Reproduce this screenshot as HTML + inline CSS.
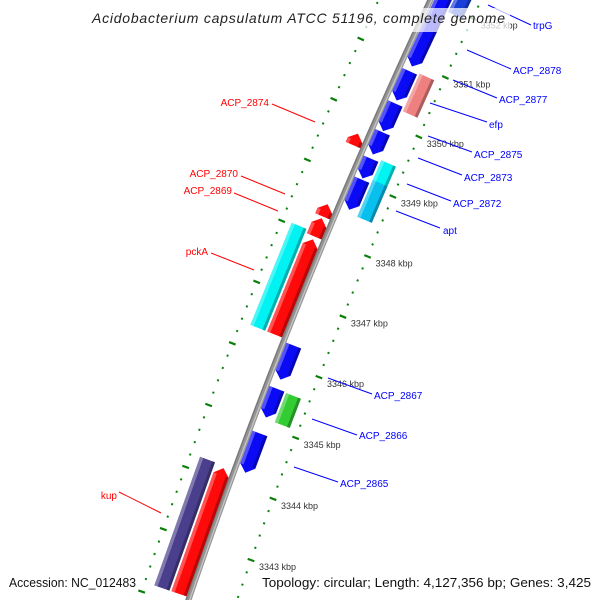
<!DOCTYPE html>
<html><head><meta charset="utf-8"><style>
html,body{margin:0;padding:0;background:#fff;width:600px;height:600px;overflow:hidden;}
svg{display:block;overflow:hidden;}
text{font-family:"Liberation Sans",sans-serif;}
</style></head><body>
<svg id="map" width="600" height="600" viewBox="0 0 600 600" xmlns="http://www.w3.org/2000/svg">
<rect x="0" y="0" width="600" height="600" fill="#fff"/>
<g id="rulers"></g>
<g id="backbone"></g>
<g id="genes"></g>
<g id="rulerLabels"></g>
<g font-size="10">
  <line x1="488" y1="5" x2="531" y2="25" stroke="#00f"/>
  <text x="533" y="29" fill="#00f">trpG</text>
  <line x1="467" y1="50" x2="511" y2="69" stroke="#00f"/>
  <text x="513" y="74" fill="#00f">ACP_2878</text>
  <line x1="453" y1="80" x2="497" y2="98" stroke="#00f"/>
  <text x="499" y="103" fill="#00f">ACP_2877</text>
  <line x1="430" y1="103" x2="487" y2="122" stroke="#00f"/>
  <text x="489" y="128" fill="#00f">efp</text>
  <line x1="428" y1="136" x2="472" y2="152" stroke="#00f"/>
  <text x="474" y="158" fill="#00f">ACP_2875</text>
  <line x1="418" y1="158" x2="462" y2="175" stroke="#00f"/>
  <text x="464" y="181" fill="#00f">ACP_2873</text>
  <line x1="407" y1="184" x2="451" y2="201" stroke="#00f"/>
  <text x="453" y="207" fill="#00f">ACP_2872</text>
  <line x1="396" y1="211" x2="440" y2="228" stroke="#00f"/>
  <text x="443" y="234" fill="#00f">apt</text>
  <line x1="328" y1="378" x2="372" y2="394" stroke="#00f"/>
  <text x="374" y="399" fill="#00f">ACP_2867</text>
  <line x1="312" y1="419" x2="357" y2="435" stroke="#00f"/>
  <text x="359" y="439" fill="#00f">ACP_2866</text>
  <line x1="294" y1="467" x2="338" y2="482" stroke="#00f"/>
  <text x="340" y="487" fill="#00f">ACP_2865</text>

  <line x1="272" y1="104" x2="315" y2="122" stroke="#f00"/>
  <text x="269" y="106" text-anchor="end" fill="#f00">ACP_2874</text>
  <line x1="241" y1="176" x2="285" y2="194" stroke="#f00"/>
  <text x="238" y="177" text-anchor="end" fill="#f00">ACP_2870</text>
  <line x1="234" y1="193" x2="278" y2="211" stroke="#f00"/>
  <text x="232" y="194" text-anchor="end" fill="#f00">ACP_2869</text>
  <line x1="211" y1="253" x2="254" y2="270" stroke="#f00"/>
  <text x="208" y="255" text-anchor="end" fill="#f00">pckA</text>
  <line x1="119" y1="492" x2="161" y2="513" stroke="#f00"/>
  <text x="117" y="499" text-anchor="end" fill="#f00">kup</text>
</g>
<rect x="88" y="8" width="422" height="24" fill="#fff" fill-opacity="0.72"/>
<text x="92" y="23" font-size="14" font-style="italic" fill="#222" textLength="413" lengthAdjust="spacing">Acidobacterium capsulatum ATCC 51196, complete genome</text>
<text x="9" y="587" font-size="13" fill="#111" textLength="127" lengthAdjust="spacingAndGlyphs">Accession: NC_012483</text>
<text x="262" y="587" font-size="13" fill="#111" textLength="329" lengthAdjust="spacingAndGlyphs">Topology: circular; Length: 4,127,356 bp; Genes: 3,425</text>
</svg>
<script>
// ---- data ----
const geneNames  = ['ACP_2879','ACP_2878','ACP_2877b','ACP_2875','ACP_2874b','ACP_2873','ACP_2867','ACP_2866b','ACP_2865',
                    'trpG','efp','ACP_2873c','apt','ACP_2866',
                    'ACP_2874','ACP_2870','ACP_2869','pckA','kup','ACP_2864',
                    'pckA-outer','kup-outer'];
const geneStart  = [3350.94,3350.37,3349.86,3349.47,3349.07,3348.55,3345.75,3345.13,3344.23,
                    3351.93,3350.26,3349.04,3348.50,3345.11,
                    3349.48,3348.30,3347.97,3346.36,3342.15,3341.00,
                    3346.36,3342.15];
const geneEnd    = [3353.20,3350.86,3350.32,3349.84,3349.40,3349.05,3346.31,3345.60,3344.87,
                    3353.20,3350.89,3349.44,3349.11,3345.59,
                    3349.67,3348.50,3348.27,3347.92,3344.18,3342.05,
                    3348.03,3344.22];
const geneRing   = ['fi','fi','fi','fi','fi','fi','fi','fi','fi',
                    'fo','fo','fo','fo','fo',
                    'ri','ri','ri','ri','ri','ri',
                    'ro','ro'];
const geneColor  = ['#0a0af5','#0a0af5','#0a0af5','#0a0af5','#0a0af5','#0a0af5','#0a0af5','#0a0af5','#0a0af5',
                    '#1a3fd8','#ee8080','#00f4f4','#08c0ee','#33cc33',
                    '#ff0a0a','#ff0a0a','#ff0a0a','#ff0a0a','#ff0a0a','#ff0a0a',
                    '#00f2f2','#4a3f8c'];
const geneDir    = [-1,-1,-1,-1,-1,-1,-1,-1,-1, 0,0,0,0,0, 1,1,1,1,1,1, 0,0];
const tickStart = 3341.6, tickEnd = 3353.4, tickStep = 0.2;
const rulerLabelKbp = [3343,3344,3345,3346,3347,3348,3349,3350,3351,3352];

// ---- geometry ----
const CX=5875, CY=2545, R0=6010, A0=201.94, K0=3347, DEG_PER_KBP=0.625;
const rings={fi:[3,19],fo:[21,37],ri:[-19,-3],ro:[-37,-21]};
const HEAD=0.11;
function P(k,v){const a=(A0+(k-K0)*DEG_PER_KBP)*Math.PI/180;const r=R0-v;return [CX+r*Math.cos(a),CY+r*Math.sin(a)];}
const NS='http://www.w3.org/2000/svg';
function poly(pts,fill,parent,name){const p=document.createElementNS(NS,'polygon');
  p.setAttribute('points',pts.map(q=>q[0].toFixed(2)+','+q[1].toFixed(2)).join(' '));
  p.setAttribute('fill',fill);
  
  
  parent.appendChild(p);return p;}

// backbone
(function(){const g=document.getElementById('backbone');
  [[0,'#949494',6],[-2.3,'#7a7a7a',1.4],[1.2,'#c4c4c4',1.4]].forEach((s,i)=>{
    const pts=[];for(let k=3341.2;k<=3354;k+=0.25){pts.push(P(k,s[0]));}
    const pl=document.createElementNS(NS,'polyline');
    pl.setAttribute('points',pts.map(q=>q[0].toFixed(2)+','+q[1].toFixed(2)).join(' '));
    pl.setAttribute('fill','none');pl.setAttribute('stroke',s[1]);pl.setAttribute('stroke-width',s[2]);
    
    
    g.appendChild(pl);});
})();

// rulers
(function(){const g=document.getElementById('rulers');
  const n=Math.round((tickEnd-tickStart)/tickStep);
  [[46,1],[-47,-1]].forEach(r=>{
    for(let i=0;i<=n;i++){const k=tickStart+i*tickStep;const major=Math.abs(k-Math.round(k))<1e-6;
      const a=major?P(k,r[0]-3.5):P(k,r[0]-1);const b=major?P(k,r[0]+3.5):P(k,r[0]+1);
      const l=document.createElementNS(NS,'line');
      l.setAttribute('x1',a[0]);l.setAttribute('y1',a[1]);l.setAttribute('x2',b[0]);l.setAttribute('y2',b[1]);
      l.setAttribute('stroke','#0a800a');l.setAttribute('stroke-width',major?2.2:2);
      
      
      g.appendChild(l);}
  });
  const lg=document.getElementById('rulerLabels');
  rulerLabelKbp.forEach(k=>{const p=P(k,46);const t=document.createElementNS(NS,'text');
    t.setAttribute('x',(p[0]+8).toFixed(1));t.setAttribute('y',(p[1]+10).toFixed(1));
    t.setAttribute('font-size','9');t.setAttribute('fill','#333');
    
    
    t.textContent=k+' kbp';lg.appendChild(t);});
})();

// genes
(function(){const g=document.getElementById('genes');
  for(let i=0;i<geneNames.length;i++){
    const lo=geneStart[i],hi=geneEnd[i],[v1,v2]=rings[geneRing[i]],vm=(v1+v2)/2,d=geneDir[i];
    const h=Math.min(HEAD,(hi-lo)*0.8);
    const grp=document.createElementNS(NS,'g');
    
    
    g.appendChild(grp);
    let pts,bLo=lo,bHi=hi;
    if(d<0){bLo=lo+h;pts=[P(hi,v1),P(bLo,v1),P(lo,vm),P(bLo,v2),P(hi,v2)];}
    else if(d>0){bHi=hi-h;pts=[P(lo,v1),P(bHi,v1),P(hi,vm),P(bHi,v2),P(lo,v2)];}
    else{pts=[P(lo,v1),P(hi,v1),P(hi,v2),P(lo,v2)];}
    poly(pts,geneColor[i],grp,'gene-body');
    const lt=poly([P(bLo,v1),P(bHi,v1),P(bHi,v1+3.5),P(bLo,v1+3.5)],'#fff',grp,'gene-highlight');lt.setAttribute('fill-opacity','0.3');
    const dk=poly([P(bLo,v2-3),P(bHi,v2-3),P(bHi,v2),P(bLo,v2)],'#000',grp,'gene-shadow');dk.setAttribute('fill-opacity','0.28');
  }
})();
</script>
</body></html>
